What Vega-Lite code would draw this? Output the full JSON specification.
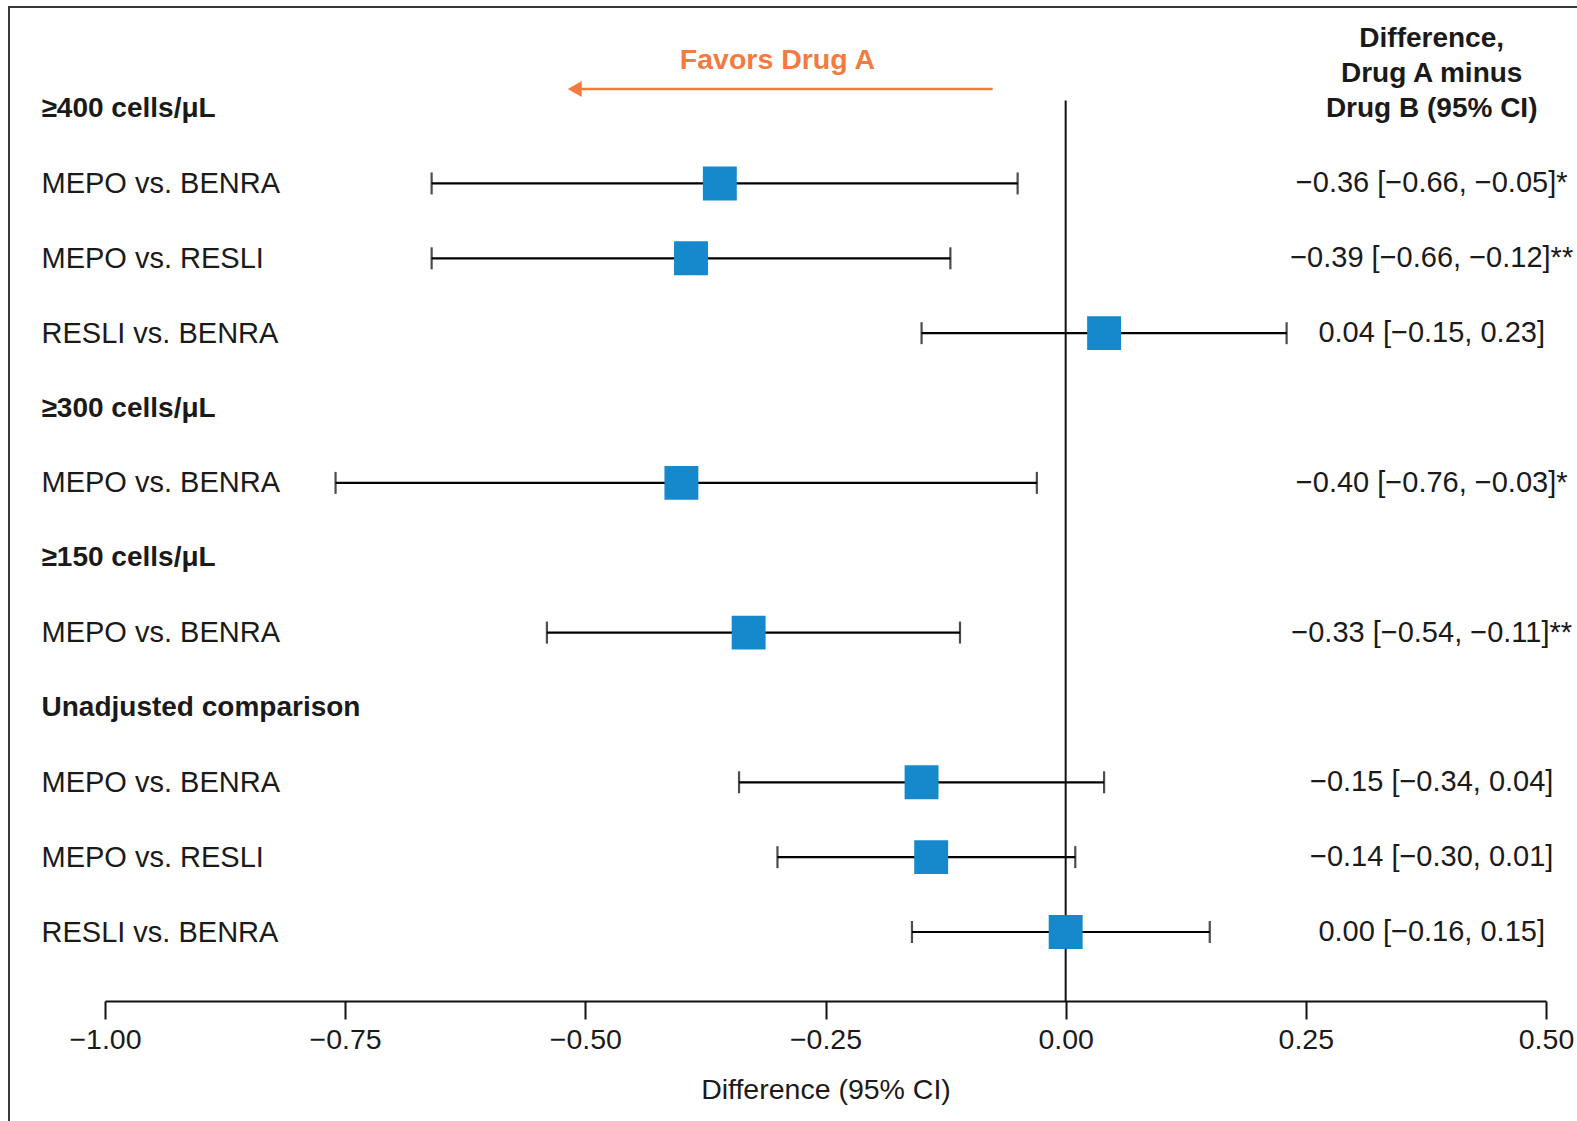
{
  "$schema": "https://vega.github.io/schema/vega-lite/v6.json",
  "width": 1578,
  "height": 1124,
  "autosize": {"type": "none"},
  "padding": {"left": 9, "top": 7, "right": -10, "bottom": -10},
  "background": "white",
  "config": {
    "font": "Liberation Sans",
    "view": {"stroke": "#3a3a3a", "strokeWidth": 2}
  },
  "data": {
    "values": [
      {"row": "≥400 cells/μL"},
      {"row": "MEPO vs. BENRA|≥400", "est": -0.36, "lo": -0.66, "hi": -0.05, "ci": "−0.36 [−0.66, −0.05]*"},
      {"row": "MEPO vs. RESLI|≥400", "est": -0.39, "lo": -0.66, "hi": -0.12, "ci": "−0.39 [−0.66, −0.12]**"},
      {"row": "RESLI vs. BENRA|≥400", "est": 0.04, "lo": -0.15, "hi": 0.23, "ci": "0.04 [−0.15, 0.23]"},
      {"row": "≥300 cells/μL"},
      {"row": "MEPO vs. BENRA|≥300", "est": -0.40, "lo": -0.76, "hi": -0.03, "ci": "−0.40 [−0.76, −0.03]*"},
      {"row": "≥150 cells/μL"},
      {"row": "MEPO vs. BENRA|≥150", "est": -0.33, "lo": -0.54, "hi": -0.11, "ci": "−0.33 [−0.54, −0.11]**"},
      {"row": "Unadjusted comparison"},
      {"row": "MEPO vs. BENRA|Unadjusted", "est": -0.15, "lo": -0.34, "hi": 0.04, "ci": "−0.15 [−0.34, 0.04]"},
      {"row": "MEPO vs. RESLI|Unadjusted", "est": -0.14, "lo": -0.30, "hi": 0.01, "ci": "−0.14 [−0.30, 0.01]"},
      {"row": "RESLI vs. BENRA|Unadjusted", "est": 0.00, "lo": -0.16, "hi": 0.15, "ci": "0.00 [−0.16, 0.15]"}
    ]
  },
  "encoding": {
    "y": {
      "field": "row",
      "type": "nominal",
      "sort": null,
      "scale": {
        "type": "point",
        "padding": 0,
        "range": [101.6, 925],
        "domain": [
          "≥400 cells/μL", "MEPO vs. BENRA|≥400", "MEPO vs. RESLI|≥400", "RESLI vs. BENRA|≥400",
          "≥300 cells/μL", "MEPO vs. BENRA|≥300",
          "≥150 cells/μL", "MEPO vs. BENRA|≥150",
          "Unadjusted comparison", "MEPO vs. BENRA|Unadjusted", "MEPO vs. RESLI|Unadjusted", "RESLI vs. BENRA|Unadjusted"
        ]
      },
      "axis": {
        "orient": "left",
        "title": null,
        "domain": false,
        "ticks": false,
        "tickSize": 0,
        "grid": false,
        "labelPadding": -32,
        "labelAlign": "left",
        "labelBaseline": "middle",
        "labelLimit": 700,
        "labelOverlap": false,
        "labelColor": "#1a1a1a",
        "labelExpr": "split(datum.value, '|')[0]",
        "labelFontSize": {"condition": {"test": "indexof(datum.value, '|') < 0", "value": 28}, "value": 29},
        "labelFontWeight": {"condition": {"test": "indexof(datum.value, '|') < 0", "value": "bold"}, "value": "normal"}
      }
    }
  },
  "layer": [
    {
      "mark": {"type": "rule", "strokeWidth": 2.2, "color": "#000000"},
      "encoding": {
        "x": {
          "field": "lo",
          "type": "quantitative",
          "scale": {"domain": [-1, 0.5], "range": [96, 1537], "nice": false, "zero": false},
          "axis": {
            "orient": "bottom",
            "offset": -130,
            "values": [-1, -0.75, -0.5, -0.25, 0, 0.25, 0.5],
            "format": ".2f",
            "grid": false,
            "domain": true,
            "domainColor": "#111111",
            "domainWidth": 2,
            "ticks": true,
            "tickSize": 18,
            "tickWidth": 2,
            "tickColor": "#111111",
            "labelFontSize": 28.5,
            "labelColor": "#1a1a1a",
            "labelPadding": 6,
            "labelFlush": false,
            "labelOverlap": false,
            "labelBound": false,
            "title": "Difference (95% CI)",
            "titleFontSize": 28.5,
            "titleFontWeight": "normal",
            "titleColor": "#1a1a1a",
            "titlePadding": 22
          }
        },
        "x2": {"field": "hi"}
      }
    },
    {
      "mark": {"type": "tick", "size": 22, "thickness": 2.2, "color": "#000000"},
      "encoding": {"x": {"field": "lo", "type": "quantitative"}}
    },
    {
      "mark": {"type": "tick", "size": 22, "thickness": 2.2, "color": "#000000"},
      "encoding": {"x": {"field": "hi", "type": "quantitative"}}
    },
    {
      "transform": [
        {"window": [{"op": "row_number", "as": "rn"}, {"op": "last_value", "field": "row", "as": "lastRow"}], "frame": [null, null]},
        {"filter": "datum.rn == 1"}
      ],
      "mark": {"type": "rule", "strokeWidth": 2, "color": "#111111", "yOffset": -8, "y2Offset": 69},
      "encoding": {
        "x": {"datum": 0, "type": "quantitative"},
        "y2": {"field": "lastRow"}
      }
    },
    {
      "mark": {"type": "point", "shape": "square", "size": 1150, "filled": true, "opacity": 1, "color": "#1589CB"},
      "encoding": {"x": {"field": "est", "type": "quantitative"}}
    },
    {
      "transform": [{"filter": "isValid(datum.ci)"}],
      "mark": {"type": "text", "fontSize": 29, "color": "#1a1a1a", "align": "center", "baseline": "middle"},
      "encoding": {
        "x": {"datum": 0.381, "type": "quantitative"},
        "text": {"field": "ci"}
      }
    },
    {
      "transform": [{"window": [{"op": "row_number", "as": "rn"}]}, {"filter": "datum.rn == 1"}],
      "mark": {"type": "text", "text": ["Difference,", "Drug A minus", "Drug B (95% CI)"], "fontSize": 28, "fontWeight": "bold", "lineHeight": 35, "color": "#1a1a1a", "align": "center", "baseline": "middle", "yOffset": -70},
      "encoding": {"x": {"datum": 0.381, "type": "quantitative"}}
    },
    {
      "transform": [{"window": [{"op": "row_number", "as": "rn"}]}, {"filter": "datum.rn == 1"}],
      "mark": {"type": "text", "text": "Favors Drug A", "fontSize": 28.5, "fontWeight": "bold", "color": "#F47B3F", "align": "center", "baseline": "middle", "yOffset": -48.6},
      "encoding": {"x": {"datum": -0.30, "type": "quantitative"}}
    },
    {
      "transform": [{"window": [{"op": "row_number", "as": "rn"}]}, {"filter": "datum.rn == 1"}],
      "mark": {"type": "rule", "strokeWidth": 2.5, "color": "#F47B3F", "yOffset": -19.6, "y2Offset": -19.6},
      "encoding": {
        "x": {"datum": -0.511, "type": "quantitative"},
        "x2": {"datum": -0.076}
      }
    },
    {
      "transform": [{"window": [{"op": "row_number", "as": "rn"}]}, {"filter": "datum.rn == 1"}],
      "mark": {"type": "point", "shape": "triangle-left", "size": 256, "filled": true, "opacity": 1, "color": "#F47B3F", "yOffset": -19.6},
      "encoding": {"x": {"datum": -0.511, "type": "quantitative"}}
    }
  ]
}
